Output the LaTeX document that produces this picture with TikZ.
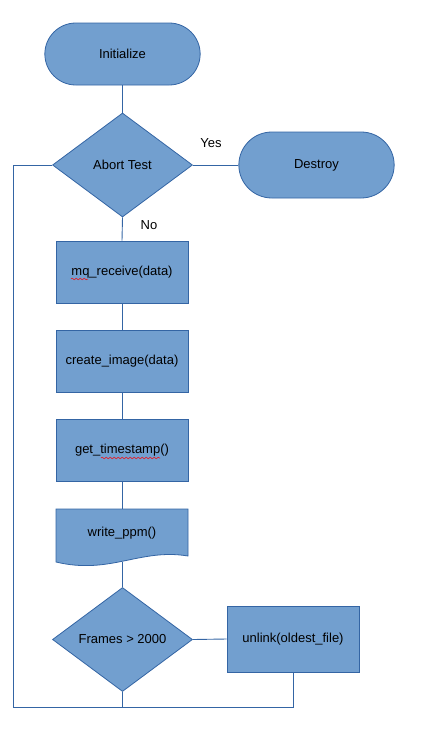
\documentclass[tikz,border=0pt]{standalone}
\usepackage{fontspec}
\setmainfont{Liberation Sans}
\usepackage{xcolor}
\usetikzlibrary{shapes.geometric, shapes.misc, decorations.pathmorphing}

\definecolor{boxfill}{HTML}{729FCF}
\definecolor{boxline}{HTML}{3465A4}

\tikzset{
	flowline/.style={boxline, line width=0.9pt},
	terminal/.style={rounded rectangle, draw=boxline, line width=0.8pt, fill=boxfill, minimum width=162pt, minimum height=62pt},
	process/.style={rectangle, draw=boxline, line width=0.8pt, fill=boxfill, minimum width=132pt, minimum height=62pt},
	decision/.style={diamond, draw=boxline, line width=0.8pt, fill=boxfill, minimum width=140pt, minimum height=104pt, inner sep=0pt},
	spell/.style={red, line width=0.5pt, decorate, decoration={snake, amplitude=0.8pt, segment length=4pt}}
}

\begin{document}
\begin{tikzpicture}[x=1pt, y=-1pt, every node/.append style={font=\fontsize{13}{15.5}\selectfont}]
		\useasboundingbox (0,0) rectangle (428,739);

		\node[terminal] at (122.5, 54) (init) {Initialize};
		\node[decision] at (122.5, 165) (abort) {Abort Test};
		\node[terminal, minimum height=66pt] at (316.5, 165) (destroy) {Destroy};

		\node[process] at (122, 272) (receive) {mq\_receive(data)};
		\node[process] at (122, 361) (create) {create\_image(data)};
		\node[process] at (122, 450) (stamp) {get\_timestamp()};

		% document shape
		\draw[draw=boxline, line width=0.8pt, fill=boxfill] (56,509) -- (188,509) -- (188,556) .. controls (140,548) and (110,575) .. (56,562) -- cycle;
		\node at (122, 533) (ppm) {write\_ppm()};
		\coordinate (ppmbot) at (122.5, 562);

		\node[decision] at (122.5, 639.5) (frames) {Frames > 2000};
		\node[process, minimum height=66pt] at (293, 639) (unlink) {unlink(oldest\_file)};

		\node at (211, 143) (yes) {Yes};
		\node at (149, 225) (no) {No};

		% spell check marks
		\draw[spell] (71,279) -- (88,279);
		\draw[spell] (101,458) -- (160,458);

		\draw[flowline] (init.south) -- (abort.north);
		\draw[flowline] (abort.east) -- (destroy.west);
		\draw[flowline] (abort.south) -- (receive.north);
		\draw[flowline] (receive.south) -- (create.north);
		\draw[flowline] (create.south) -- (stamp.north);
		\draw[flowline] (stamp.south) -- (122,509);
		\draw[flowline] (ppmbot) -- (frames.north);
		\draw[flowline] (frames.east) -- (unlink.west);

		% loop back
		\coordinate (looptl) at (13, 165);
		\coordinate (loopbl) at (13, 707);
		\draw[flowline] (unlink.south) -- (unlink.south |- loopbl) -- (loopbl) -- (looptl) -- (abort.west);
		\draw[flowline] (frames.south) -- (frames.south |- loopbl);
	\end{tikzpicture}
\end{document}
